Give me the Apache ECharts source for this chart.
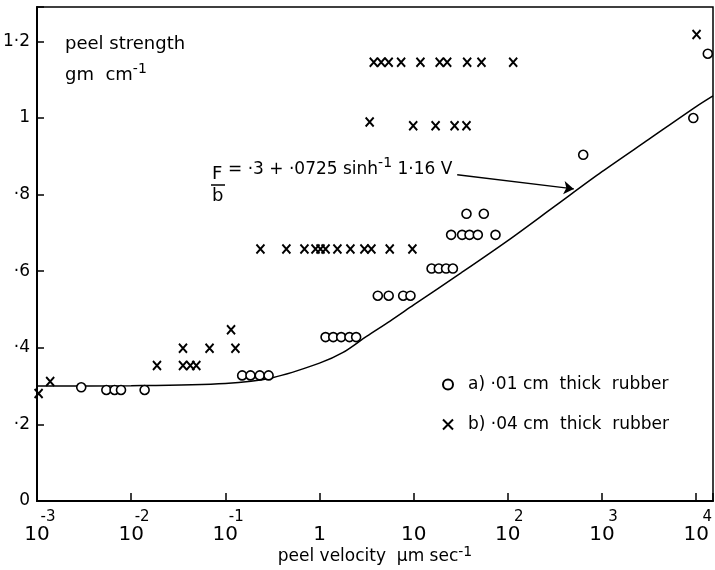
<!DOCTYPE html>
<html>
<head>
<meta charset="utf-8">
<title>peel strength - peel velocity</title>
<script src="https://cdn.jsdelivr.net/npm/echarts@6/dist/echarts.min.js"></script>
<style>
  html, body { margin: 0; padding: 0; background: #fff; }
  #main { width: 715px; height: 570px; }
</style>
</head>
<body>
<div id="main"></div>
<script>
// a) .01 cm thick rubber (circles): peel velocity in µm/s, peel strength in g/cm
const rubberAVelocity = [0.00295, 0.00545, 0.00667, 0.0078, 0.0139,
  0.151, 0.185, 0.232, 0.288,
  1.16, 1.40, 1.70, 2.08, 2.45,
  4.16, 5.43, 7.74, 9.25,
  15.5, 18.5, 22.1, 26.1,
  25.0, 32.7, 39.2, 48.0, 74.0,
  36.4, 55.6,
  632, 9330, 13300]
const rubberAStrength = [0.297, 0.29, 0.29, 0.29, 0.29,
  0.328, 0.328, 0.328, 0.328,
  0.428, 0.428, 0.428, 0.428, 0.428,
  0.536, 0.536, 0.536, 0.536,
  0.607, 0.607, 0.607, 0.607,
  0.695, 0.695, 0.695, 0.695, 0.695,
  0.75, 0.75,
  0.904, 1.0, 1.168]

// b) .04 cm thick rubber (crosses)
const rubberBVelocity = [0.00104, 0.00138, 0.0188, 0.0355, 0.0355, 0.0425, 0.0492, 0.068, 0.115, 0.128,
  0.236, 0.445, 0.692, 0.907, 1.025, 1.16, 1.55, 2.13, 3.0, 3.56, 5.57, 9.7,
  3.77, 4.52, 5.43, 7.36, 11.8, 18.9, 22.7, 37.0, 52.5, 114,
  3.41, 9.89, 17.1, 27.2, 36.4,
  10100]
const rubberBStrength = [0.281, 0.312, 0.354, 0.399, 0.354, 0.354, 0.354, 0.399, 0.447, 0.399,
  0.658, 0.658, 0.658, 0.658, 0.658, 0.658, 0.658, 0.658, 0.658, 0.658, 0.658, 0.658,
  1.146, 1.146, 1.146, 1.146, 1.146, 1.146, 1.146, 1.146, 1.146, 1.146,
  0.99, 0.98, 0.98, 0.98, 0.98,
  1.218]

// the drawn curve F/b = .3 + .0725 sinh^-1 1.16V
const curveVelocity = [0.001, 0.01, 0.1, 0.316, 1, 1.78, 3.16, 5.62, 10, 31.6, 100, 316, 1000, 3162, 10000, 15100]
const curveStrength = [0.300, 0.301, 0.307, 0.322, 0.36, 0.388, 0.43, 0.47, 0.512, 0.595, 0.68, 0.77, 0.86, 0.945, 1.03, 1.058]

// arrow from the formula to the curve
const arrowFrom = [29, 0.852]
const arrowTo = [502, 0.815]

// tick labels
const xTickBase = ['10', '10', '10', '1', '10', '10', '10', '10']
const xTickExp = ['-3', '-2', '-1', '', '', '2', '3', '4']
const yTickText = ['0', '·2', '·4', '·6', '·8', '1', '1·2']

const FONT = '"DejaVu Sans", sans-serif'
const pairs = (xs, ys) => xs.map((x, i) => [x, ys[i]])

const chartInstance = echarts.init(document.getElementById('main'))

const option = {
  animation: false,
  backgroundColor: '#fff',
  textStyle: { fontFamily: FONT, color: '#000' },
  grid: {
    left: 37,
    right: 2,
    top: 7,
    bottom: 69,
    outerBoundsMode: 'none', // 不让标签和轴名称挤压绘图区
    show: true,
    borderColor: '#000',
    borderWidth: 1.5,
  },
  legend: {
    orient: 'vertical',
    left: 437,
    top: 371,
    itemGap: 23,
    itemWidth: 10,
    itemHeight: 10,
    selectedMode: false,
    textStyle: { fontFamily: FONT, fontSize: 17, color: '#000', padding: [0, 0, 0, 10] },
    data: [
      { name: 'a) ·01 cm  thick  rubber', icon: 'circle' },
      { name: 'b) ·04 cm  thick  rubber', icon: 'path://M0,0L10,10M10,0L0,10' },
    ],
  },
  xAxis: {
    type: 'log',
    logBase: 10,
    min: 0.001,
    max: 15100,
    splitNumber: 8,
    axisLine: { show: true, lineStyle: { color: '#000', width: 2 } },
    axisTick: { show: true, inside: true, length: 8, lineStyle: { color: '#000', width: 1.5 } },
    minorTick: { show: false },
    splitLine: { show: false },
    axisLabel: {
      margin: 9,
      color: '#000',
      formatter: (v) => {
        const p = Math.log10(v)
        const k = Math.round(p)
        if (Math.abs(p - k) > 1e-6) return ''
        const i = k + 3
        if (i < 0 || i >= xTickBase.length) return ''
        return '{e|' + (xTickExp[i] || ' ') + '}\n{b|' + xTickBase[i] + '}'
      },
      rich: {
        e: { fontFamily: FONT, fontSize: 15, lineHeight: 15, padding: [0, 0, 0, 22], color: '#000' },
        b: { fontFamily: FONT, fontSize: 20, lineHeight: 20, color: '#000' },
      },
    },
    name: '{n|peel velocity  µm sec}{s|-1}',
    nameLocation: 'middle',
    nameGap: 44,
    nameMoveOverlap: false,
    nameTextStyle: {
      rich: {
        n: { fontFamily: FONT, fontSize: 17, lineHeight: 20, verticalAlign: 'bottom', color: '#000' },
        s: { fontFamily: FONT, fontSize: 14, lineHeight: 14, verticalAlign: 'top', padding: [0, 0, 16, 0], color: '#000' },
      },
    },
  },
  yAxis: {
    type: 'value',
    min: 0,
    max: 1.29,
    interval: 0.2,
    axisLine: { show: true, lineStyle: { color: '#000', width: 2 } },
    axisTick: { show: true, inside: true, length: 7, lineStyle: { color: '#000', width: 1.5 } },
    splitLine: { show: false },
    axisLabel: {
      margin: 7,
      color: '#000',
      fontFamily: FONT,
      fontSize: 17,
      formatter: (v) => {
        const i = Math.round(v / 0.2)
        if (Math.abs(v - i * 0.2) > 1e-6) return ''
        return yTickText[i] || ''
      },
    },
  },
  series: [
    {
      name: 'curve',
      type: 'line',
      data: pairs(curveVelocity, curveStrength),
      symbol: 'none',
      smooth: 0.3,
      lineStyle: { color: '#000', width: 1.5 },
      z: 1,
      markLine: {
        silent: true,
        symbol: ['none', 'arrow'],
        symbolSize: 10,
        label: { show: false },
        lineStyle: { color: '#000', width: 1.3, type: 'solid' },
        itemStyle: { color: '#000' },
        data: [[{ coord: arrowFrom }, { coord: arrowTo }]],
      },
    },
    {
      name: 'a) ·01 cm  thick  rubber',
      type: 'scatter',
      data: pairs(rubberAVelocity, rubberAStrength),
      symbol: 'circle',
      symbolSize: 9,
      itemStyle: { color: '#fff', borderColor: '#000', borderWidth: 1.6, opacity: 1 },
      z: 3,
    },
    {
      name: 'b) ·04 cm  thick  rubber',
      type: 'scatter',
      data: pairs(rubberBVelocity, rubberBStrength),
      symbol: 'path://M0,0L10,10M10,0L0,10',
      symbolSize: [8, 9],
      itemStyle: { color: 'rgba(0,0,0,0)', borderColor: '#000', borderWidth: 2, opacity: 1 },
      z: 3,
    },
  ],
  graphic: [
    // y axis title inside the plot
    {
      type: 'text', left: 65, top: 35,
      style: { text: 'peel strength', font: '18px ' + FONT, fill: '#000' },
    },
    {
      type: 'text', left: 65, top: 62,
      style: {
        text: '{n|gm  cm}{s|-1}',
        fill: '#000',
        rich: {
          n: { fontFamily: FONT, fontSize: 18, lineHeight: 22, verticalAlign: 'bottom', fill: '#000' },
          s: { fontFamily: FONT, fontSize: 14, lineHeight: 14, verticalAlign: 'top', padding: [0, 0, 14, 0], fill: '#000' },
        },
      },
    },
    // formula: F over b, then the rest
    {
      type: 'text', left: 212, top: 165,
      style: { text: 'F', font: '18px ' + FONT, fill: '#000' },
    },
    {
      type: 'line', shape: { x1: 211, y1: 185, x2: 225, y2: 185 },
      style: { stroke: '#000', lineWidth: 1.5 },
    },
    {
      type: 'text', left: 212, top: 187,
      style: { text: 'b', font: '18px ' + FONT, fill: '#000' },
    },
    {
      type: 'text', left: 228, top: 156,
      style: {
        text: '{n|= ·3 + ·0725 sinh}{s|-1}{n| 1·16 V}',
        fill: '#000',
        rich: {
          n: { fontFamily: FONT, fontSize: 17, lineHeight: 22, verticalAlign: 'bottom', fill: '#000' },
          s: { fontFamily: FONT, fontSize: 14, lineHeight: 14, verticalAlign: 'top', padding: [0, 0, 16, 0], fill: '#000' },
        },
      },
    },
  ],
}

chartInstance.setOption(option)
</script>
</body>
</html>
